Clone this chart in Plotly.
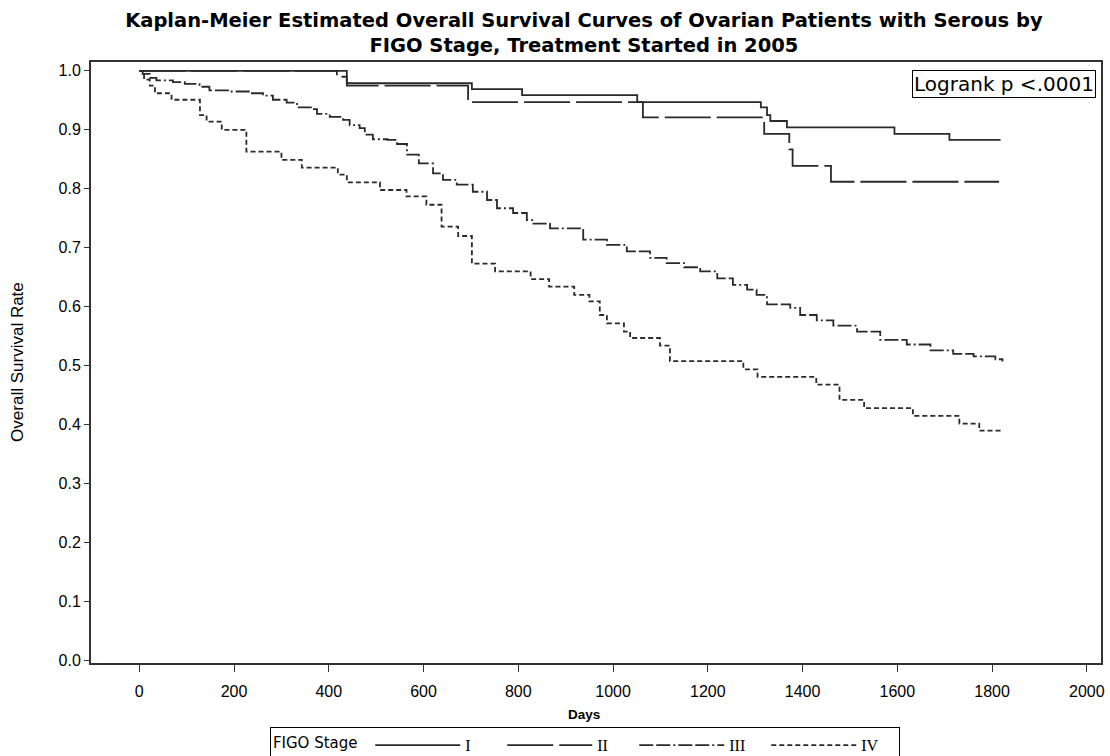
import plotly.graph_objects as go

# ---- data (days, survival probability) ----
stage_i_t = [0, 438, 702, 808, 1051, 1312, 1325, 1332, 1367, 1594, 1710, 1818]
stage_i_s = [1.0, 0.979, 0.969, 0.959, 0.947, 0.938, 0.925, 0.915, 0.904, 0.893, 0.883, 0.883]

stage_ii_t = [0, 417, 438, 694, 1063, 1319, 1372, 1379, 1460, 1815]
stage_ii_s = [1.0, 0.990, 0.975, 0.947, 0.921, 0.893, 0.867, 0.839, 0.812, 0.812]

stage_iii_t = [0, 7, 22, 36, 71, 96, 127, 148, 191, 233, 261, 282, 311, 333, 364, 375,
               402, 430, 444, 465, 476, 493, 524, 544, 565, 590, 620, 641, 670, 704,
               734, 755, 789, 818, 832, 867, 937, 987, 1029, 1078, 1113, 1150, 1184,
               1220, 1253, 1283, 1303, 1325, 1374, 1395, 1430, 1465, 1515, 1564, 1620,
               1670, 1718, 1761, 1807, 1822]
stage_iii_s = [1.0, 0.995, 0.988, 0.984, 0.981, 0.978, 0.973, 0.967, 0.965, 0.962, 0.958,
               0.951, 0.946, 0.938, 0.935, 0.927, 0.922, 0.917, 0.908, 0.903, 0.892, 0.884,
               0.883, 0.876, 0.858, 0.843, 0.826, 0.815, 0.807, 0.795, 0.781, 0.767, 0.759,
               0.747, 0.741, 0.733, 0.714, 0.705, 0.694, 0.683, 0.674, 0.667, 0.660, 0.648,
               0.637, 0.629, 0.620, 0.604, 0.598, 0.586, 0.577, 0.568, 0.558, 0.544, 0.536,
               0.526, 0.520, 0.516, 0.511, 0.507]

stage_iv_t = [0, 10, 22, 33, 68, 128, 142, 174, 226, 300, 343, 419, 438, 508, 564, 606,
              638, 673, 702, 751, 826, 865, 918, 950, 972, 987, 1023, 1036, 1099, 1120,
              1275, 1305, 1429, 1478, 1530, 1633, 1731, 1773, 1820]
stage_iv_s = [1.0, 0.985, 0.975, 0.962, 0.951, 0.925, 0.914, 0.900, 0.863, 0.849, 0.836,
              0.824, 0.811, 0.798, 0.787, 0.773, 0.736, 0.720, 0.673, 0.660, 0.647, 0.634,
              0.620, 0.609, 0.586, 0.572, 0.558, 0.547, 0.534, 0.508, 0.494, 0.481, 0.468,
              0.442, 0.428, 0.415, 0.402, 0.390, 0.390]

series_names = ["I", "II", "III", "IV"]
series_dash = ["solid", "46px,6px", "14px,3px,14px,3px,2px,3px", "5px,3px"]

x_ticks = [0, 200, 400, 600, 800, 1000, 1200, 1400, 1600, 1800, 2000]
y_ticks = [0.0, 0.1, 0.2, 0.3, 0.4, 0.5, 0.6, 0.7, 0.8, 0.9, 1.0]

title_text = ("Kaplan-Meier Estimated Overall Survival Curves of Ovarian Patients with Serous by"
              "<br>FIGO Stage, Treatment Started in 2005")

line_color = "#2a2a2a"
SANS = "Liberation Sans, Arial, sans-serif"
WIDE = "DejaVu Sans, Verdana, sans-serif"

fig = go.Figure()
all_t = [stage_i_t, stage_ii_t, stage_iii_t, stage_iv_t]
all_s = [stage_i_s, stage_ii_s, stage_iii_s, stage_iv_s]
for name, dash, t, s in zip(series_names, series_dash, all_t, all_s):
    fig.add_trace(go.Scatter(
        x=t, y=s, mode="lines", name=name,
        line=dict(shape="hv", color=line_color, width=1.8, dash=dash),
    ))

fig.update_layout(
    width=1110, height=756,
    margin=dict(l=91, r=9, t=62, b=93, autoexpand=False),
    paper_bgcolor="white", plot_bgcolor="white",
    title=dict(text=title_text, x=0.488, xref="paper", xanchor="center",
               y=1 - 27 / 756, yref="container", yanchor="middle",
               font=dict(family=WIDE, size=19.5, color="black", weight="bold")),
    font=dict(family=SANS, color="black"),
    showlegend=True,
    legend=dict(
        orientation="h", x=0.489, xanchor="center", y=-0.107, yanchor="top",
        bordercolor="black", borderwidth=1, bgcolor="white",
        title=dict(text="FIGO Stage ", side="left",
                   font=dict(family=WIDE, size=15)),
        font=dict(family="Liberation Serif, Times New Roman, serif", size=16),
        itemwidth=85, entrywidth=32, entrywidthmode="pixels",
    ),
    annotations=[
        dict(text="Logrank p <.0001", xref="paper", yref="paper", x=0.995, y=0.987,
             xanchor="right", yanchor="top", showarrow=False,
             bordercolor="black", borderwidth=1, borderpad=1, bgcolor="white",
             font=dict(family=WIDE, size=20, color="black")),
        dict(text="<b>Days</b>", xref="paper", yref="paper", x=0.488, y=-0.085,
             xanchor="center", yanchor="middle", showarrow=False,
             font=dict(family=SANS, size=13.5, color="black")),
        dict(text="Overall Survival Rate", xref="paper", yref="paper", x=-0.0723, y=0.501,
             xanchor="center", yanchor="middle", textangle=-90, showarrow=False,
             font=dict(family=SANS, size=17, color="black")),
    ],
)

fig.update_xaxes(
    range=[-102, 2030], tickvals=x_ticks, ticktext=[str(v) for v in x_ticks],
    showgrid=False, zeroline=False, showline=True, linecolor="#333", linewidth=2,
    mirror=True, ticks="outside", ticklen=7, tickwidth=1, tickcolor="#333",
    ticklabelstandoff=6, automargin=False,
    tickfont=dict(size=16, family=SANS),
)
fig.update_yaxes(
    range=[-0.004, 1.015], tickvals=y_ticks, ticktext=[f"{v:.1f}" for v in y_ticks],
    showgrid=False, zeroline=False, showline=True, linecolor="#333", linewidth=2,
    mirror=True, ticks="outside", ticklen=5, tickwidth=1, tickcolor="#333",
    automargin=False,
    tickfont=dict(size=16, family=SANS),
)

fig.write_html(
    "out.html",
    config={"displayModeBar": False},
    post_script="document.body.style.margin='0';document.body.style.overflow='hidden';",
)
